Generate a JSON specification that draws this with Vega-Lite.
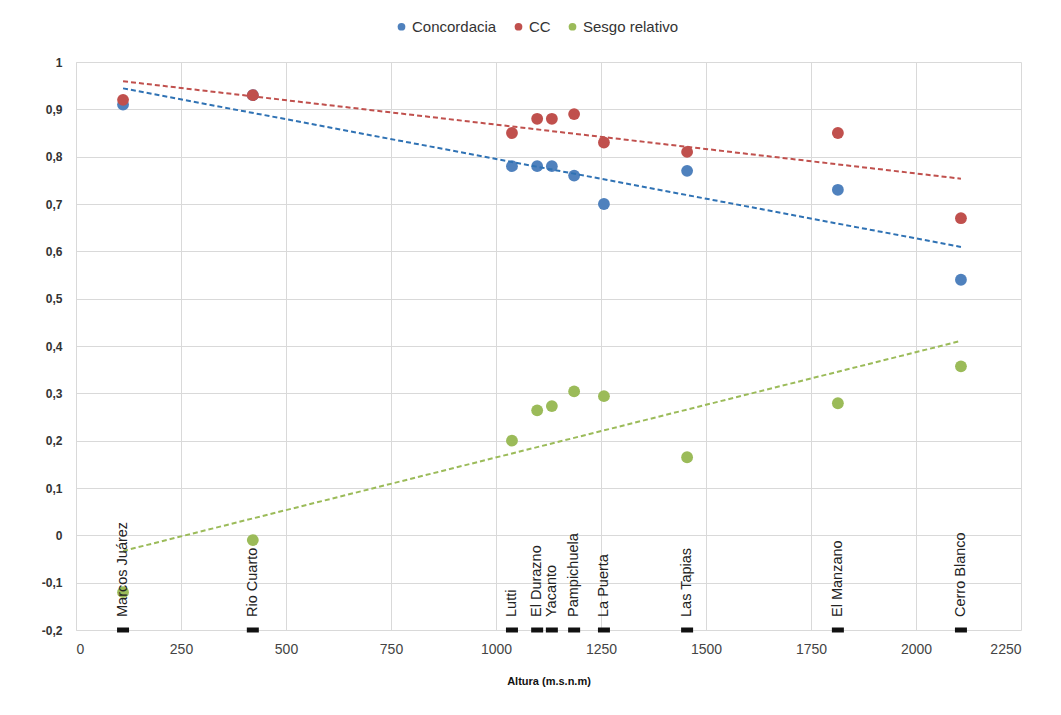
{
  "$schema": "https://vega.github.io/schema/vega-lite/v6.json",
  "autosize": {"type": "none"},
  "width": 945,
  "height": 568,
  "padding": {"left": 76, "top": 62, "right": 40, "bottom": 85},
  "background": "white",
  "config": {
    "font": "Liberation Sans",
    "view": {"stroke": null},
    "axis": {"gridColor": "#d9d9d9", "domainColor": "#d9d9d9", "ticks": false}
  },
  "datasets": {
    "st": [
      {"estacion": "Marcos Juárez", "altitud": 112, "Concordacia": 0.91, "CC": 0.92, "Sesgo relativo": -0.12},
      {"estacion": "Rio Cuarto", "altitud": 421, "Concordacia": 0.93, "CC": 0.93, "Sesgo relativo": -0.01},
      {"estacion": "Lutti", "altitud": 1038, "Concordacia": 0.78, "CC": 0.85, "Sesgo relativo": 0.2},
      {"estacion": "El Durazno", "altitud": 1098, "Concordacia": 0.78, "CC": 0.88, "Sesgo relativo": 0.264},
      {"estacion": "Yacanto", "altitud": 1133, "Concordacia": 0.78, "CC": 0.88, "Sesgo relativo": 0.273},
      {"estacion": "Pampichuela", "altitud": 1186, "Concordacia": 0.76, "CC": 0.89, "Sesgo relativo": 0.304},
      {"estacion": "La Puerta", "altitud": 1257, "Concordacia": 0.70, "CC": 0.83, "Sesgo relativo": 0.294},
      {"estacion": "Las Tapias", "altitud": 1455, "Concordacia": 0.77, "CC": 0.81, "Sesgo relativo": 0.165},
      {"estacion": "El Manzano", "altitud": 1814, "Concordacia": 0.73, "CC": 0.85, "Sesgo relativo": 0.279},
      {"estacion": "Cerro Blanco", "altitud": 2107, "Concordacia": 0.54, "CC": 0.67, "Sesgo relativo": 0.357}
    ]
  },
  "data": {"name": "st"},
  "layer": [
    {
      "transform": [{"fold": ["Concordacia", "CC", "Sesgo relativo"], "as": ["serie", "valor"]}],
      "mark": {"type": "point", "filled": true, "opacity": 1, "size": 140},
      "encoding": {
        "x": {"field": "altitud", "type": "quantitative",
          "scale": {"domain": [0, 2250], "nice": false},
          "axis": {"values": [0, 250, 500, 750, 1000, 1250, 1500, 1750, 2000, 2250], "format": "d",
            "title": "Altura (m.s.n.m)", "titleFontSize": 11, "titleFontWeight": "bold", "titleColor": "#111",
            "titlePadding": 19, "labelFontSize": 14, "labelColor": "#444", "labelPadding": 12, "domain": false}},
        "y": {"field": "valor", "type": "quantitative",
          "scale": {"domain": [-0.2, 1], "nice": false},
          "axis": {"values": [-0.2, -0.1, 0, 0.1, 0.2, 0.3, 0.4, 0.5, 0.6, 0.7, 0.8, 0.9, 1],
            "labelExpr": "replace(toString(datum.value), '.', ',')",
            "title": null, "labelFontSize": 12, "labelFontWeight": "bold", "labelColor": "#333", "labelPadding": 14}},
        "color": {"field": "serie", "type": "nominal",
          "scale": {"domain": ["Concordacia", "CC", "Sesgo relativo"], "range": ["#4F81BD", "#C0504D", "#9BBB59"]},
          "legend": {"title": null, "orient": "none", "direction": "horizontal", "legendX": 318, "legendY": -43,
            "symbolType": "circle", "symbolSize": 60, "labelFontSize": 15, "labelColor": "#333", "labelOffset": 3, "columnPadding": 14, "symbolOffset": 0}}
      }
    },
    {
      "transform": [
        {"fold": ["Concordacia", "CC", "Sesgo relativo"], "as": ["serie", "valor"]},
        {"regression": "valor", "on": "altitud", "groupby": ["serie"], "as": ["altitud", "valor"]}
      ],
      "mark": {"type": "line", "strokeDash": [5, 3], "strokeWidth": 2},
      "encoding": {
        "x": {"field": "altitud", "type": "quantitative"},
        "y": {"field": "valor", "type": "quantitative"},
        "color": {"field": "serie", "type": "nominal",
          "scale": {"domain": ["Concordacia", "CC", "Sesgo relativo"], "range": ["#2F72B4", "#C0504D", "#9BBB59"]}, "legend": null}
      }
    },
    {
      "mark": {"type": "tick", "orient": "horizontal", "size": 12, "thickness": 5, "color": "#111", "opacity": 1},
      "encoding": {
        "x": {"field": "altitud", "type": "quantitative"},
        "y": {"datum": -0.2, "type": "quantitative"}
      }
    },
    {
      "mark": {"type": "text", "angle": 270, "align": "left", "baseline": "middle", "dx": 13, "fontSize": 14.5, "color": "#222"},
      "encoding": {
        "x": {"field": "altitud", "type": "quantitative"},
        "y": {"datum": -0.2, "type": "quantitative"},
        "text": {"field": "estacion"}
      }
    }
  ],
  "resolve": {"scale": {"color": "independent"}}
}
